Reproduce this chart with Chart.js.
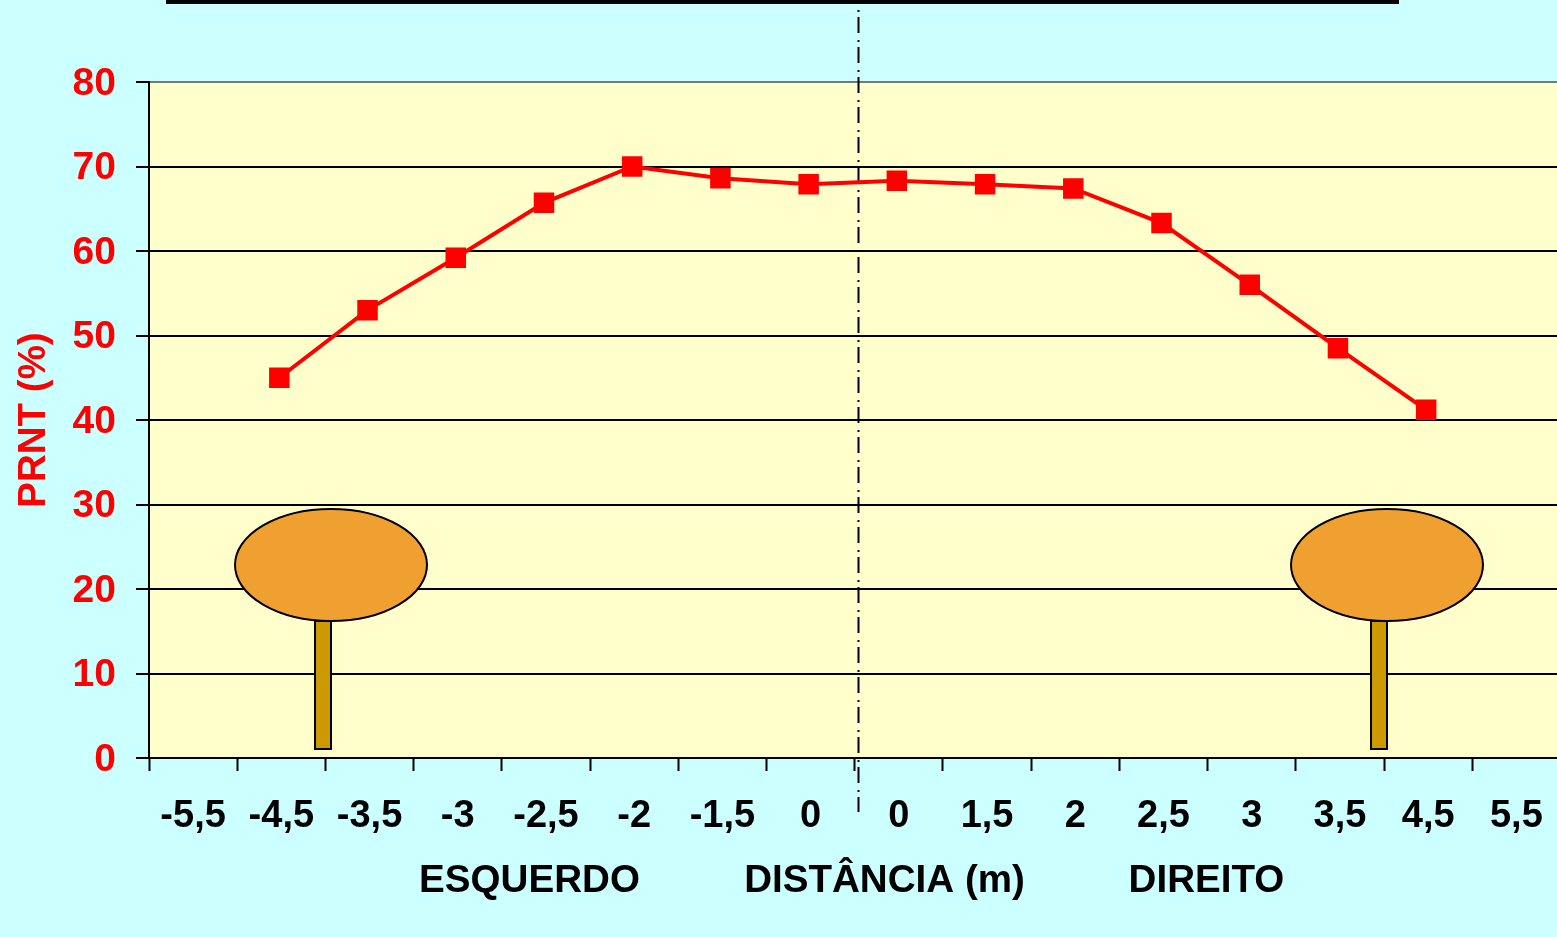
<!DOCTYPE html>
<html><head><meta charset="utf-8">
<style>html,body{margin:0;padding:0;background:#CCFFFF;overflow:hidden;width:1557px;height:937px}canvas{display:block}</style>
<script src="https://cdn.jsdelivr.net/npm/chart.js@4"></script>
</head><body><canvas id="c" width="1575" height="937"></canvas>
<script>
const categories = ["-5,5","-4,5","-3,5","-3","-2,5","-2","-1,5","0","0","1,5","2","2,5","3","3,5","4,5","5,5"];
const prnt = [null,45,53,59.2,65.7,70,68.6,67.9,68.3,67.9,67.4,63.3,56,48.5,41.2,null];
const yTicks = [0,10,20,30,40,50,60,70,80];
const FONT = '"Liberation Sans", Arial, sans-serif';

const decor = {
  id:'decor',
  beforeDraw(chart){
    const {ctx,chartArea:a} = chart;
    ctx.save();
    ctx.fillStyle='#CCFFFF'; ctx.fillRect(0,0,chart.width,chart.height);
    ctx.fillStyle='#FFFFCC'; ctx.fillRect(a.left,a.top,a.right-a.left,a.bottom-a.top);
    ctx.restore();
  },
  beforeDatasetsDraw(chart){
    const {ctx} = chart;
    ctx.save();
    ctx.strokeStyle='#000'; ctx.lineWidth=2;
    for(const [ex,tx] of [[331,315],[1387,1371]]){
      ctx.fillStyle='#CC9900';
      ctx.fillRect(tx,621,16,128); ctx.strokeRect(tx,621,16,128);
      ctx.fillStyle='#F0A030';
      ctx.beginPath(); ctx.ellipse(ex,565,96,56,0,0,Math.PI*2); ctx.fill(); ctx.stroke();
    }
    ctx.setLineDash([2,5,16,7]); ctx.lineDashOffset=0;
    ctx.beginPath(); ctx.moveTo(858.5,10); ctx.lineTo(858.5,812); ctx.stroke();
    ctx.setLineDash([]);
    ctx.restore();
    ctx.save(); ctx.translate(-2,0);
  },
  afterDatasetsDraw(chart){ chart.ctx.restore(); },
  afterDraw(chart){
    const {ctx} = chart;
    ctx.save();
    ctx.fillStyle='#000'; ctx.fillRect(166,0,1233,4);
    ctx.font='bold 38.6px '+FONT; ctx.textAlign='center'; ctx.textBaseline='middle';
    ctx.fillText('ESQUERDO',529.5,881.5);
    ctx.fillText('DISTÂNCIA (m)',884.5,881.5);
    ctx.fillText('DIREITO',1206.5,881.5);
    ctx.restore();
  }
};

new Chart(document.getElementById('c'),{
  type:'line',
  data:{labels:categories,datasets:[{
    data:prnt,borderColor:'#FF0000',backgroundColor:'#FF0000',borderWidth:4,
    pointStyle:'rect',pointRadius:14.5,pointHoverRadius:14.5,pointBorderWidth:0,
    tension:0,spanGaps:false
  }]},
  options:{
    responsive:false,animation:false,devicePixelRatio:1,
    layout:{padding:{top:82,right:1,left:0,bottom:0}},
    plugins:{legend:{display:false},title:{display:false},tooltip:{enabled:false}},
    scales:{
      x:{
        type:'category',offset:true,
        grid:{display:true,offset:true,drawOnChartArea:false,drawTicks:true,tickLength:13,tickColor:'#000',tickWidth:2},
        border:{display:true,color:'#000',width:2},
        ticks:{color:'#000',font:{family:FONT,weight:'bold',size:38},padding:23,maxRotation:0,autoSkip:false},
        afterFit(s){s.height=179;}
      },
      y:{
        min:0,max:80,
        afterBuildTicks(s){s.ticks=yTicks.map(v=>({value:v}));},
        grid:{color:c=>c.tick&&c.tick.value===80?'#777':'#000',lineWidth:2,tickLength:13,tickColor:'#000',tickWidth:2},
        border:{display:true,color:'#000',width:2},
        ticks:{color:'#FF0000',font:{family:FONT,weight:'bold',size:39,lineHeight:'4px'},padding:20,callback:v=>['',String(v)]},
        title:{display:true,text:'PRNT (%)',color:'#FF0000',font:{family:FONT,weight:'bold',size:38.5},padding:{top:11,bottom:0}},
        afterFit(s){s.width=149;}
      }
    }
  },
  plugins:[decor]
});
</script></body></html>
